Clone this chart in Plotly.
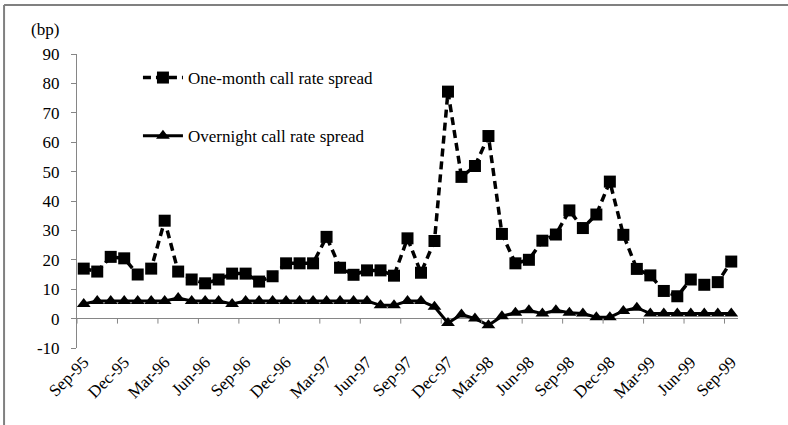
import plotly.graph_objects as go

months = ["Sep-95", "Oct-95", "Nov-95", "Dec-95", "Jan-96", "Feb-96", "Mar-96", "Apr-96",
          "May-96", "Jun-96", "Jul-96", "Aug-96", "Sep-96", "Oct-96", "Nov-96", "Dec-96",
          "Jan-97", "Feb-97", "Mar-97", "Apr-97", "May-97", "Jun-97", "Jul-97", "Aug-97",
          "Sep-97", "Oct-97", "Nov-97", "Dec-97", "Jan-98", "Feb-98", "Mar-98", "Apr-98",
          "May-98", "Jun-98", "Jul-98", "Aug-98", "Sep-98", "Oct-98", "Nov-98", "Dec-98",
          "Jan-99", "Feb-99", "Mar-99", "Apr-99", "May-99", "Jun-99", "Jul-99", "Aug-99",
          "Sep-99"]

one_month = [17, 16, 21, 20.5, 15, 17, 33.3, 16, 13.3, 12, 13.3, 15.3,
             15.3, 12.6, 14.4, 18.8, 18.8, 18.8, 27.8, 17.3, 14.9, 16.4, 16.4, 14.6,
             27.3, 15.6, 26.4, 77.2, 48.2, 51.9, 62.1, 28.8, 18.8, 20, 26.5, 28.6,
             36.8, 30.8, 35.4, 46.6, 28.5, 16.9, 14.7, 9.4, 7.6, 13.3, 11.5, 12.4, 19.4]

overnight = [5, 6, 6, 6, 6, 6, 6, 7, 6, 6, 6, 5,
             6, 6, 6, 6, 6, 6, 6, 6, 6, 6, 4.5, 4.5,
             6, 6, 4, -1.5, 1.4, 0, -2.3, 0.8, 2, 2.8, 1.7, 2.8,
             2, 1.7, 0.5, 0.5, 2.6, 3.7, 1.7, 1.7, 1.7, 1.7, 1.7, 1.7, 1.7]

tick_labels = ["Sep-95", "Dec-95", "Mar-96", "Jun-96", "Sep-96", "Dec-96", "Mar-97",
               "Jun-97", "Sep-97", "Dec-97", "Mar-98", "Jun-98", "Sep-98", "Dec-98",
               "Mar-99", "Jun-99", "Sep-99"]

y_ticks = [-10, 0, 10, 20, 30, 40, 50, 60, 70, 80, 90]
y_tick_text = ["-10", "0", "10", "20", "30", "40", "50", "60", "70", "80", "90"]

FONT = "Liberation Serif"
FS = 17
GRAY = "#868686"
FRAME = "#808080"

fig = go.Figure()
fig.add_trace(go.Scatter(
    x=months, y=one_month, name="One-month call rate spread", mode="lines+markers",
    line=dict(color="black", width=3.5, dash="8px,5px"),
    marker=dict(symbol="square", size=12, color="black"),
    legendgroup="a"))
fig.add_trace(go.Scatter(
    x=months, y=overnight, name="Overnight call rate spread", mode="lines+markers",
    line=dict(color="black", width=3),
    marker=dict(symbol="triangle-up", size=12, color="black"),
    legendgroup="b"))

# x-axis tick marks sit on the zero line, between every third category
n = len(months)
shapes = []
for k in range(0, n + 1, 3):
    b = k - 0.5
    shapes.append(dict(type="line", xref="x", yref="y", ysizemode="pixel", yanchor=0,
                       x0=b, x1=b, y0=0, y1=-5, line=dict(color=GRAY, width=1)))
# outer frame (top and left edges visible)
L, R, T, B = 77, 738.5, 54, 348
def px_x(p):
    return (p - L) / (R - L)
def px_y(p):
    return (B - p) / (B - T)
shapes.append(dict(type="line", xref="paper", yref="paper",
                   x0=px_x(4), x1=px_x(4), y0=px_y(5), y1=px_y(430),
                   line=dict(color=FRAME, width=2)))
shapes.append(dict(type="line", xref="paper", yref="paper",
                   x0=px_x(4), x1=px_x(790), y0=px_y(5), y1=px_y(5),
                   line=dict(color=FRAME, width=2)))

fig.update_layout(
    width=788, height=425,
    margin=dict(l=77, r=50, t=54, b=77),
    plot_bgcolor="white", paper_bgcolor="white",
    font=dict(family=FONT, size=FS, color="black"),
    shapes=shapes,
    showlegend=True,
    legend=dict(x=px_x(138), y=px_y(60), xanchor="left", yanchor="top",
                bgcolor="rgba(0,0,0,0)", font=dict(family=FONT, size=FS, color="black"),
                traceorder="grouped", tracegroupgap=33, itemwidth=40),
    annotations=[dict(text="(bp)", xref="paper", yref="paper", x=px_x(45), y=px_y(30),
                      xanchor="center", yanchor="middle",
                      showarrow=False, font=dict(family=FONT, size=FS, color="black"))],
)
fig.update_xaxes(
    range=[-0.5, n - 0.5], tickmode="array", tickvals=tick_labels, ticktext=tick_labels,
    tickangle=-45, showline=False, ticks="", showgrid=False, zeroline=False,
    tickfont=dict(family=FONT, size=FS, color="black"))
fig.update_yaxes(
    range=[-10, 90], tickmode="array", tickvals=y_ticks, ticktext=y_tick_text,
    showline=True, linecolor=GRAY, linewidth=1,
    ticks="outside", ticklen=5, tickcolor=GRAY, showgrid=False,
    zeroline=True, zerolinecolor=GRAY, zerolinewidth=1, ticklabelstandoff=8,
    tickfont=dict(family=FONT, size=FS, color="black"))

fig.write_html("out.html", config={"displayModeBar": False},
               post_script="document.body.style.margin='0';")
